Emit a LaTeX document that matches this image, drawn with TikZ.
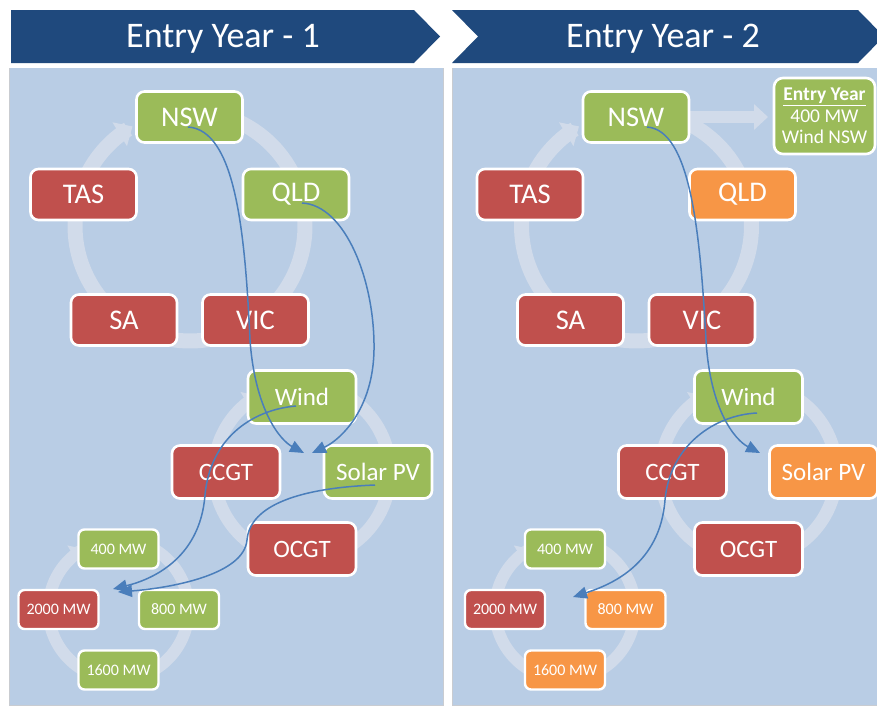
\documentclass[tikz,border=0pt]{standalone}
\usepackage{fontspec}
\setmainfont{Carlito}
\usetikzlibrary{arrows.meta}
\definecolor{bannerc}{HTML}{1F497D}
\definecolor{panelc}{HTML}{B9CDE5}
\definecolor{ringc}{HTML}{D1DBEA}
\definecolor{greenc}{HTML}{9BBB59}
\definecolor{redc}{HTML}{C0504D}
\definecolor{orangec}{HTML}{F79646}
\definecolor{flowc}{HTML}{4A7EBB}
\definecolor{edgec}{HTML}{C9CCD1}
\begin{document}
\begin{tikzpicture}[x=1pt,y=-1pt,
  bigbox/.style={draw=white, line width=2.6pt, rounded corners=8pt, minimum width=106pt, minimum height=51pt, inner sep=0pt, text=white, font=\fontsize{28.5}{33}\selectfont},
  genbox/.style={draw=white, line width=2.6pt, rounded corners=8pt, minimum width=108pt, minimum height=53pt, inner sep=0pt, text=white, font=\fontsize{25}{29}\selectfont},
  mwbox/.style={draw=white, line width=2.4pt, rounded corners=6pt, minimum width=80pt, minimum height=39pt, inner sep=0pt, text=white, font=\fontsize{16}{19}\selectfont},
  ringline/.style={draw=ringc, line width=#1},
  flow/.style={draw=flowc, line width=1.5pt, -{Triangle[length=14pt,width=12pt]}},
  bannertext/.style={text=white, anchor=base, font=\fontsize{36}{42}\selectfont}
]
\useasboundingbox (0,0) rectangle (877,707);
\clip (0,0) rectangle (877,707);
\fill[white] (0,0) rectangle (877,707);
% panels
\fill[panelc] (9,68) rectangle (443,705);
\fill[panelc] (453,68) rectangle (885,705);
\draw[edgec, line width=1pt] (9,68) -- (9,705.5) -- (443.5,705.5) -- (443.5,68);
\draw[edgec, line width=1pt] (452.5,68) -- (452.5,705.5) -- (885,705.5);
% banners
\fill[bannerc] (11,10) -- (414,10) -- (440,36.5) -- (414,63) -- (11,63) -- cycle;
\fill[bannerc] (452,10) -- (858,10) -- (884,36.5) -- (858,63) -- (452,63) -- (478,36.5) -- cycle;
\node[bannertext] (bt1) at (223,47) {Entry Year - 1};
\node[bannertext] (bt2) at (663,47) {Entry Year - 2};

% ===== rings, left panel =====
\draw[ringline=15pt, -{Triangle[length=15pt,width=27pt]}] plot[domain=0:320, samples=120] ({190+115*cos(80-\x)}, {226-115*sin(80-\x)});
\draw[ringline=13pt, -{Triangle[length=13pt,width=24pt]}] plot[domain=0:320, samples=120] ({302+88*cos(80-\x)}, {472-88*sin(80-\x)});
\draw[ringline=12pt, -{Triangle[length=12pt,width=22pt]}] plot[domain=0:320, samples=120] ({118.5+70*cos(80-\x)}, {609.5-70*sin(80-\x)});
% ===== rings, right panel =====
\draw[ringline=15pt, -{Triangle[length=15pt,width=27pt]}] plot[domain=0:320, samples=120] ({636.5+115*cos(80-\x)}, {226-115*sin(80-\x)});
\draw[ringline=13pt, -{Triangle[length=13pt,width=24pt]}] plot[domain=0:320, samples=120] ({748.5+88*cos(80-\x)}, {472-88*sin(80-\x)});
\draw[ringline=12pt, -{Triangle[length=12pt,width=22pt]}] plot[domain=0:320, samples=120] ({565+70*cos(80-\x)}, {609.5-70*sin(80-\x)});

% ===== left panel nodes =====
\node[bigbox, fill=greenc] (nswA) at (189.5,117) {NSW};
\node[bigbox, fill=redc] (tasA) at (83.5,194.5) {TAS};
\node[bigbox, fill=greenc] (qldA) at (296,194.5) {QLD};
\node[bigbox, fill=redc] (saA) at (124,320) {SA};
\node[bigbox, fill=redc] (vicA) at (255.5,320) {VIC};
\node[genbox, fill=greenc] (windA) at (302,397) {Wind};
\node[genbox, fill=redc] (ccgtA) at (226,472) {CCGT};
\node[genbox, fill=greenc] (solarA) at (378,472) {Solar PV};
\node[genbox, fill=redc] (ocgtA) at (302,549) {OCGT};
\node[mwbox, fill=greenc] (m400A) at (118.5,549) {400 MW};
\node[mwbox, fill=redc] (m2000A) at (58.5,609.5) {2000 MW};
\node[mwbox, fill=greenc] (m800A) at (179,609.5) {800 MW};
\node[mwbox, fill=greenc] (m1600A) at (118.5,670) {1600 MW};

% ===== right panel =====
\coordinate (entryTip) at (768,117);
\draw[ringline=12pt, -{Triangle[length=14pt,width=25pt]}] (636,117) -- (entryTip);
\node[bigbox, fill=greenc] (nswB) at (636,117) {NSW};
\node[bigbox, fill=redc] (tasB) at (530,194.5) {TAS};
\node[bigbox, fill=orangec] (qldB) at (742.5,194.5) {QLD};
\node[bigbox, fill=redc] (saB) at (570.5,320) {SA};
\node[bigbox, fill=redc] (vicB) at (702,320) {VIC};
\node[genbox, fill=greenc] (windB) at (748.5,397) {Wind};
\node[genbox, fill=redc] (ccgtB) at (672.5,472) {CCGT};
\node[genbox, fill=orangec] (solarB) at (823.5,472) {Solar PV};
\node[genbox, fill=redc] (ocgtB) at (748.5,549) {OCGT};
\node[mwbox, fill=greenc] (m400B) at (565,549) {400 MW};
\node[mwbox, fill=redc] (m2000B) at (505,609.5) {2000 MW};
\node[mwbox, fill=orangec] (m800B) at (625.5,609.5) {800 MW};
\node[mwbox, fill=orangec] (m1600B) at (565,670) {1600 MW};
\node[draw=white, line width=2.6pt, rounded corners=9pt, fill=greenc, minimum width=101pt, minimum height=76pt, inner sep=0pt, text=white, align=center, font=\fontsize{19.5}{21.5}\selectfont] (entryB) at (824.5,116) {\underline{\textbf{Entry Year}}\\400 MW\\Wind NSW};

% ===== flows, left =====
\coordinate (eA1) at (304,453);
\coordinate (eA2) at (312,453);
\coordinate (eA3) at (113,589);
\coordinate (eA4) at (118,592);
\draw[flow] ([shift={(-1.5,10)}]nswA.center) .. controls (235,130) and (245,230) .. (250,340) .. controls (255,410) and (280,440) .. (eA1);
\draw[flow] ([shift={(6,8.5)}]qldA.center) .. controls (345,205) and (375,280) .. (374,350) .. controls (373,410) and (340,440) .. (eA2);
\draw[flow] ([shift={(-6,9)}]windA.center) .. controls (250,410) and (210,440) .. (205,495) .. controls (200,560) and (150,580) .. (eA3);
\draw[flow] ([shift={(-3,13)}]solarA.center) .. controls (300,488) and (250,505) .. (247,540) .. controls (244,575) and (170,588) .. (eA4);

% ===== flows, right =====
\coordinate (eB1) at (760,453);
\coordinate (eB2) at (573,597);
\draw[flow] ([shift={(11,10)}]nswB.center) .. controls (690,130) and (700,230) .. (706,340) .. controls (710,410) and (735,440) .. (eB1);
\draw[flow] ([shift={(8.5,16)}]windB.center) .. controls (715,415) and (670,445) .. (665,500) .. controls (660,565) and (610,585) .. (eB2);
\end{tikzpicture}
\end{document}
